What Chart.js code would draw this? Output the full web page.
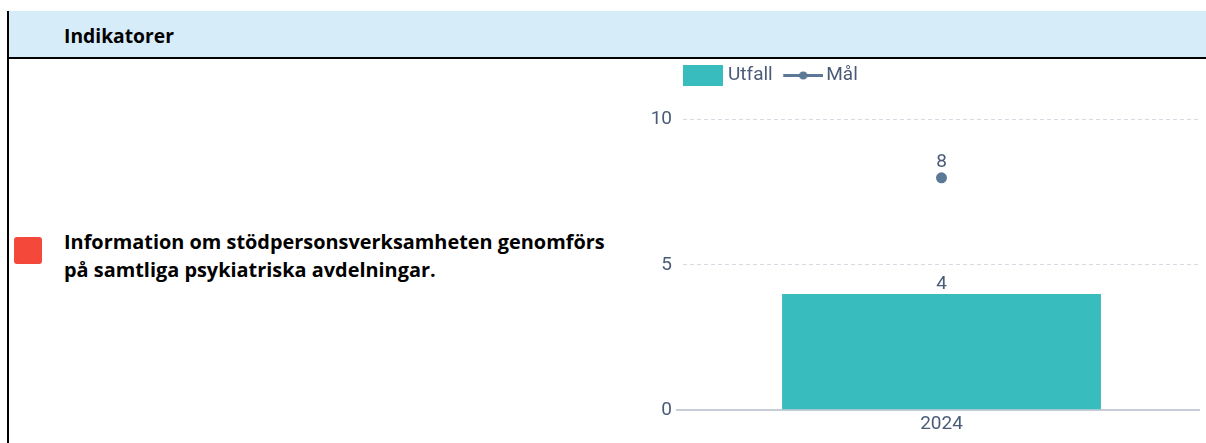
<!DOCTYPE html>
<html>
<head>
<meta charset="utf-8">
<script src="https://cdn.jsdelivr.net/npm/chart.js@4.4.1/dist/chart.umd.min.js"></script>
<style>
  html, body { margin:0; padding:0; background:#fff; }
  body { width:1206px; height:443px; position:relative; overflow:hidden; }
  .leftline { position:absolute; left:7px; top:11px; width:2px; height:432px; background:#000; }
  .header { position:absolute; left:9px; top:11px; width:1197px; height:46px; background:#d6ecf8; border-bottom:2px solid #000; }
  .header span { position:absolute; left:55px; top:11px; font:700 19.3px "Open Sans", sans-serif; line-height:28px; color:#000; white-space:nowrap; }
  .status { position:absolute; left:14px; top:237px; width:28px; height:27px; border-radius:3px; background:#f3483a; }
  .desc { position:absolute; left:64px; top:228px; font:700 19.9px "Open Sans", sans-serif; line-height:28px; color:#000; white-space:nowrap; }
  .chartbox { position:absolute; left:640px; top:53px; width:566px; height:390px; }
</style>
</head>
<body>
<div class="header"><span>Indikatorer</span></div>
<div class="leftline"></div>
<div class="status"></div>
<div class="desc">Information om stödpersonsverksamheten genomförs<br>på samtliga psykiatriska avdelningar.</div>
<div class="chartbox"><canvas id="c"></canvas></div>
<script>
const categories = ['2024'];
const utfallValues = [4];
const malValues = [8];
const yTickValues = [0, 5, 10];
const seriesLabels = ['Utfall', 'Mål'];

const textColor = '#4a5b78';
const barColor = '#38bcbd';
const lineColor = '#5b7897';

function boxImg() {
  const c = document.createElement('canvas');
  c.width = 40; c.height = 21;
  const g = c.getContext('2d');
  g.fillStyle = barColor;
  g.fillRect(0, 0, 40, 21);
  return c;
}
function lineImg() {
  const c = document.createElement('canvas');
  c.width = 44; c.height = 21;
  const g = c.getContext('2d');
  g.strokeStyle = lineColor; g.fillStyle = lineColor; g.lineWidth = 3;
  g.beginPath(); g.moveTo(4, 10.5); g.lineTo(44, 10.5); g.stroke();
  g.beginPath(); g.arc(24, 10.5, 4, 0, Math.PI * 2); g.fill();
  return c;
}
const legendImgs = [boxImg(), lineImg()];

const valueLabels = {
  id: 'valueLabels',
  afterDatasetsDraw(chart) {
    const ctx = chart.ctx;
    ctx.save();
    ctx.font = '19px Roboto';
    ctx.fillStyle = textColor;
    ctx.textAlign = 'center';
    ctx.textBaseline = 'alphabetic';
    chart.data.datasets.forEach((ds, i) => {
      const meta = chart.getDatasetMeta(i);
      meta.data.forEach((el, j) => {
        const off = meta.type === 'bar' ? 5 : 11;
        ctx.fillText(String(ds.data[j]), el.x, el.y - off);
      });
    });
    ctx.restore();
  }
};

// line the legend up with the plot area (minus its inner padding)
const legendShift = {
  id: 'legendShift',
  afterLayout(chart) {
    const lg = chart.legend;
    if (!lg) return;
    const w = lg.width;
    lg.left = chart.chartArea.left - 8.5;
    lg.right = lg.left + w;
  }
};

Chart.defaults.font.family = 'Roboto';
Chart.defaults.font.size = 19;
Chart.defaults.color = textColor;

new Chart(document.getElementById('c'), {
  data: {
    labels: categories,
    datasets: [
      { type: 'bar', label: seriesLabels[0], data: utfallValues, backgroundColor: barColor,
        borderWidth: 0, barPercentage: 0.771, categoryPercentage: 0.8 },
      { type: 'line', label: seriesLabels[1], data: malValues, borderColor: lineColor,
        backgroundColor: lineColor, borderWidth: 3, pointRadius: 5.5, pointHoverRadius: 5.5,
        pointBorderWidth: 0 }
    ]
  },
  options: {
    responsive: true,
    maintainAspectRatio: false,
    animation: false,
    events: [],
    layout: { padding: { left: 0, right: 6, top: 0, bottom: 4 } },
    plugins: {
      tooltip: { enabled: false },
      legend: {
        position: 'top',
        align: 'start',
        labels: {
          usePointStyle: true,
          pointStyleWidth: 31,
          padding: 13,
          color: textColor,
          font: { size: 19, family: 'Roboto' },
          generateLabels(chart) {
            return Chart.defaults.plugins.legend.labels.generateLabels(chart)
              .map((l, i) => Object.assign(l, { pointStyle: legendImgs[i] }));
          }
        }
      }
    },
    scales: {
      x: {
        grid: { display: false, drawTicks: false },
        border: { display: false },
        ticks: { padding: 3, color: textColor, font: { size: 19 } }
      },
      y: {
        min: 0,
        max: 10.85,
        afterBuildTicks(scale) { scale.ticks = yTickValues.map(v => ({ value: v })); },
        afterFit(scale) { scale.width = 43; },
        border: { display: false, dash: (c) => (c.tick && c.tick.value === 0 ? [] : [4, 3]) },
        grid: {
          drawTicks: true,
          tickLength: 7,
          color: (c) => (c.tick && c.tick.value === 0 ? '#c5cdd8' : '#d5dbe3'),
          lineWidth: (c) => (c.tick && c.tick.value === 0 ? 2 : 1),
          tickColor: (c) => (c.tick && c.tick.value === 0 ? '#c5cdd8' : 'rgba(0,0,0,0)'),
          tickWidth: 2
        },
        ticks: { padding: 4, color: textColor, font: { size: 19 } }
      }
    }
  },
  plugins: [valueLabels, legendShift]
});
</script>
</body>
</html>
